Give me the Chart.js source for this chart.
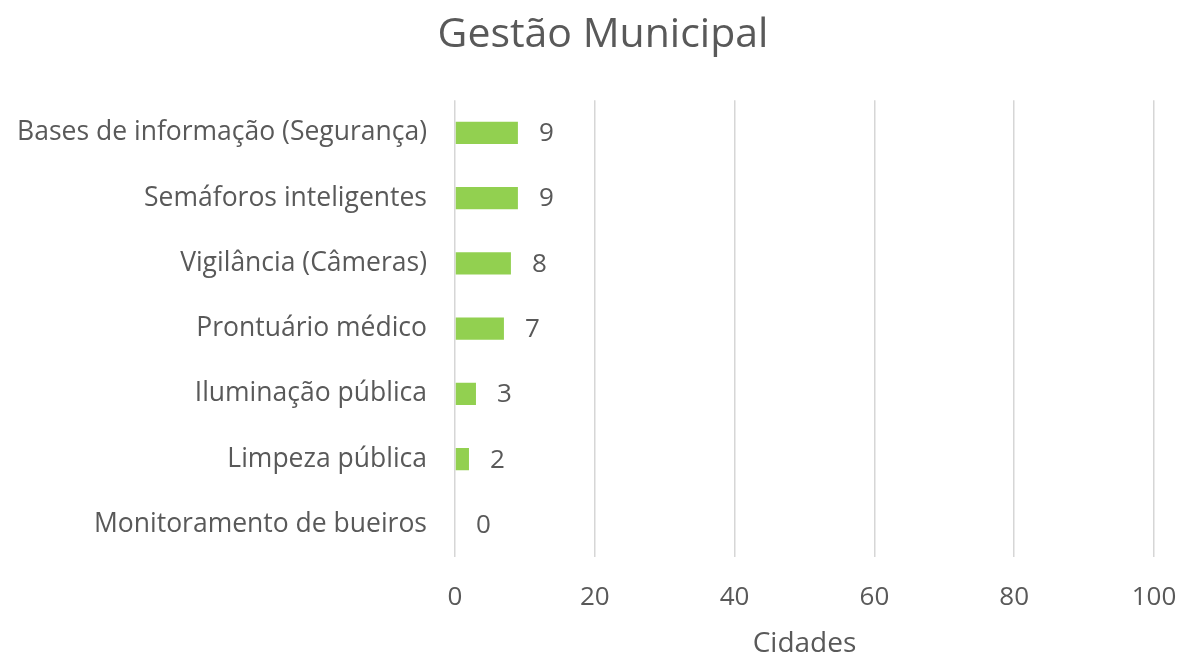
<!DOCTYPE html>
<html><head><meta charset="utf-8">
<script src="https://cdn.jsdelivr.net/npm/chart.js@4"></script>
<style>html,body{margin:0;padding:0;background:#fff}#wrap{width:1183px;height:661px}</style>
</head><body><div id="wrap"><canvas id="c" width="1183" height="661"></canvas></div>
<script>
const categories = ["Bases de informação (Segurança)","Semáforos inteligentes","Vigilância (Câmeras)","Prontuário médico","Iluminação pública","Limpeza pública","Monitoramento de bueiros"];
const values = [9,9,8,7,3,2,0];
const xTicks = [0,20,40,60,80,100];
const FONT = "'Open Sans', 'Noto Sans', sans-serif";
const labelPlugin = {
  id:'vlabels',
  afterLayout(chart){
    const t = chart.titleBlock;
    if (t) { t.left = 23; t.right = 1183; }
  },
  afterDatasetsDraw(chart){
    const ctx = chart.ctx;
    const meta = chart.getDatasetMeta(0);
    ctx.save();
    ctx.font = "26px " + FONT;
    ctx.fillStyle = '#595959';
    ctx.textAlign = 'left';
    ctx.textBaseline = 'middle';
    meta.data.forEach((bar,i)=>{
      ctx.fillText(String(values[i]), bar.x + 21, bar.y + 1);
    });
    ctx.restore();
  }
};
new Chart(document.getElementById('c'), {
  type:'bar',
  data:{labels:categories, datasets:[{data:values, backgroundColor:'#92D050', categoryPercentage:1, barPercentage:0.34}]},
  options:{
    indexAxis:'y', responsive:false, animation:false,
    layout:{padding:{left:0,right:0,top:0,bottom:0}},
    plugins:{
      legend:{display:false}, tooltip:{enabled:false},
      title:{display:true, text:'Gestão Municipal', color:'#595959', font:{family:FONT,size:41,weight:'normal'}, padding:{top:11,bottom:40}}
    },
    scales:{
      x:{min:0,max:100, afterBuildTicks(s){s.ticks = xTicks.map(v=>({value:v}));},
        grid:{color:'#d6d6d6', lineWidth:1.5, drawTicks:false},
        border:{display:false},
        ticks:{color:'#595959', font:{family:FONT,size:26}, padding:25, maxRotation:0},
        title:{display:true, text:'Cidades', color:'#595959', font:{family:FONT,size:28}, padding:{top:15,bottom:0}},
        afterFit(s){ s.paddingLeft = 0; s.paddingRight = 29; s.height = 104; }
      },
      y:{grid:{display:false, drawTicks:false}, border:{display:false},
        ticks:{color:'#595959', font:{family:FONT,size:26.5}, padding:28},
        afterFit(s){ s.width = 455; s.paddingTop = 0; s.paddingBottom = 0; }
      }
    }
  },
  plugins:[labelPlugin]
});
</script></body></html>
